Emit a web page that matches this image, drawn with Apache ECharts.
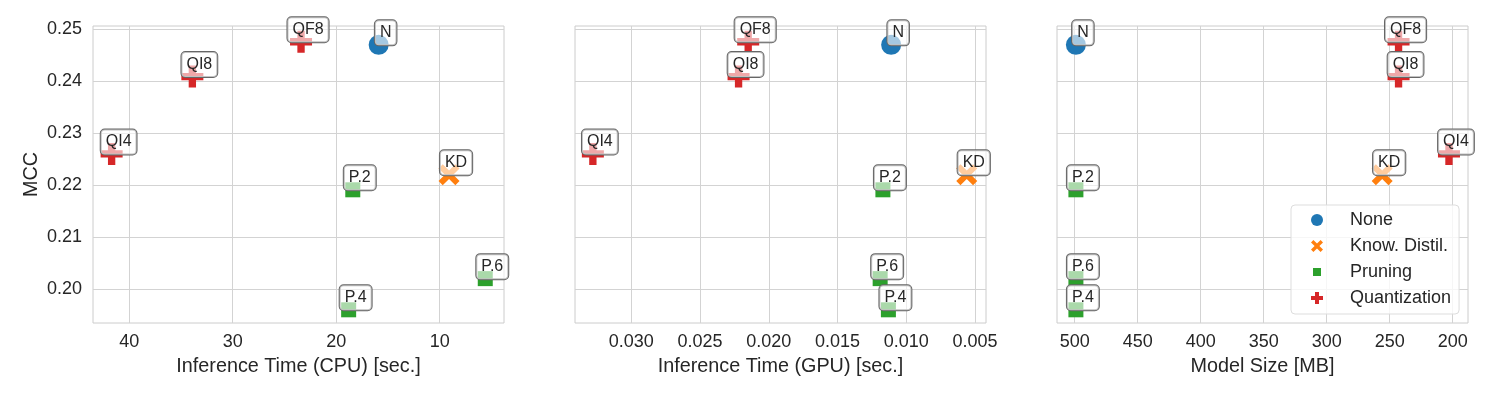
<!DOCTYPE html>
<html>
<head>
<meta charset="utf-8">
<script src="https://cdn.jsdelivr.net/npm/echarts@6/dist/echarts.min.js"></script>
<style>
  html, body { margin: 0; padding: 0; background: #fff; }
  #chart { width: 1495px; height: 399px; }
</style>
</head>
<body>
<div id="chart"></div>
<script>
// data
const models = ['N', 'KD', 'P.2', 'P.4', 'P.6', 'QF8', 'QI8', 'QI4'];
const methods = ['None', 'Know. Distil.', 'Pruning', 'Pruning', 'Pruning', 'Quantization', 'Quantization', 'Quantization'];
const mcc = [0.2470, 0.2220, 0.2191, 0.1960, 0.2020, 0.2476, 0.2409, 0.2260];
const cpuTime = [15.9, 9.1, 18.4, 18.8, 5.6, 23.4, 33.9, 41.7];
const gpuTime = [0.0111, 0.0056, 0.0117, 0.0113, 0.0119, 0.0215, 0.0222, 0.0328];
const modelSize = [499, 256, 499, 499, 499, 243, 243, 203];

const methodNames = ['None', 'Know. Distil.', 'Pruning', 'Quantization'];
const yTicks = [0.20, 0.21, 0.22, 0.23, 0.24, 0.25];
const cpuTicks = [10, 20, 30, 40];
const gpuTicks = [0.005, 0.010, 0.015, 0.020, 0.025, 0.030];
const sizeTicks = [200, 250, 300, 350, 400, 450, 500];

const font = '"Liberation Sans", Arial, sans-serif';
const textColor = '#262626';
const gridColor = '#d3d3d3';

// seaborn tab10 + matplotlib-ish markers
const colors = ['#1f77b4', '#ff7f0e', '#2ca02c', '#d62728'];
const plusPath = 'path://M1,0H2V1H3V2H2V3H1V2H0V1H1Z';
const xPath = 'path://M0.6,0L1.5,0.9L2.4,0L3,0.6L2.1,1.5L3,2.4L2.4,3L1.5,2.1L0.6,3L0,2.4L0.9,1.5L0,0.6Z';
const symbols = ['circle', xPath, 'rect', plusPath];
const sizes = [20, 21, 15, 22];
const legendIcons = ['circle', xPath, 'path://M0,0L0,0ZM6,6L6,6ZM1,1H5V5H1Z', plusPath];

const panels = [
  { xs: cpuTime, min: 3.79, max: 43.5, ticks: cpuTicks, digits: 0, name: 'Inference Time (CPU) [sec.]', left: 93 },
  { xs: gpuTime, min: 0.0042, max: 0.0341, ticks: gpuTicks, digits: 3, name: 'Inference Time (GPU) [sec.]', left: 575 },
  { xs: modelSize, min: 187.9, max: 514, ticks: sizeTicks, digits: 0, name: 'Model Size [MB]', left: 1057 }
];

const grids = [], xAxes = [], yAxes = [], series = [];

panels.forEach((p, k) => {
  grids.push({
    left: p.left, top: 26, width: 411, height: 297,
    show: true, borderColor: '#cccccc', borderWidth: 1, backgroundColor: 'transparent'
  });
  xAxes.push({
    type: 'value', gridIndex: k, inverse: true, min: p.min, max: p.max,
    name: p.name, nameLocation: 'middle', nameGap: 34,
    nameTextStyle: { fontSize: 19.8, color: textColor, fontFamily: font },
    axisLine: { show: false },
    axisTick: { show: false, customValues: p.ticks },
    axisLabel: {
      customValues: p.ticks, fontSize: 18, color: textColor, fontFamily: font, margin: 10,
      formatter: v => v.toFixed(p.digits)
    },
    splitLine: { show: true, lineStyle: { color: gridColor, width: 1 } }
  });
  yAxes.push({
    type: 'value', gridIndex: k, min: 0.19346, max: 0.25063,
    name: k === 0 ? 'MCC' : '', nameLocation: 'middle', nameGap: 51,
    nameTextStyle: { fontSize: 19.8, color: textColor, fontFamily: font },
    axisLine: { show: false },
    axisTick: { show: false, customValues: yTicks },
    axisLabel: {
      show: k === 0, customValues: yTicks, fontSize: 18, color: textColor, fontFamily: font, margin: 11,
      formatter: v => v.toFixed(2)
    },
    splitLine: { show: true, lineStyle: { color: gridColor, width: 1 } }
  });

  methodNames.forEach((m, j) => {
    const data = [];
    models.forEach((name, i) => {
      if (methods[i] === m) data.push({ name: name, value: [p.xs[i], mcc[i]] });
    });
    series.push({
      name: m,
      type: 'scatter',
      xAxisIndex: k,
      yAxisIndex: k,
      symbol: symbols[j],
      symbolSize: sizes[j],
      itemStyle: { color: colors[j], opacity: 1 },
      emphasis: { disabled: true },
      data: data,
      label: {
        show: true,
        position: 'inside',
        offset: [7, -12],
        formatter: '{b}',
        fontSize: 16,
        fontFamily: font,
        color: textColor,
        lineHeight: 17,
        padding: [5, 5, 3, 5],
        backgroundColor: 'rgba(255,255,255,0.6)',
        borderColor: '#666666',
        borderWidth: 1,
        borderRadius: 4
      }
    });
  });
});

const chart = echarts.init(document.getElementById('chart'));
chart.setOption({
  animation: false,
  backgroundColor: '#ffffff',
  textStyle: { fontFamily: font },
  grid: grids,
  xAxis: xAxes,
  yAxis: yAxes,
  legend: {
    orient: 'vertical',
    left: 1291,
    top: 205,
    align: 'left',
    padding: [5, 8, 6, 20],
    itemGap: 6,
    itemWidth: 40,
    itemHeight: 12,
    backgroundColor: 'rgba(255,255,255,0.8)',
    borderColor: '#dddddd',
    borderWidth: 1,
    borderRadius: 4,
    textStyle: { fontSize: 18, color: textColor, fontFamily: font, lineHeight: 20, padding: [0, 0, 0, 8] },
    data: methodNames.map((m, j) => ({ name: m, icon: legendIcons[j], itemStyle: { color: colors[j] } }))
  },
  series: series
});
</script>
</body>
</html>
